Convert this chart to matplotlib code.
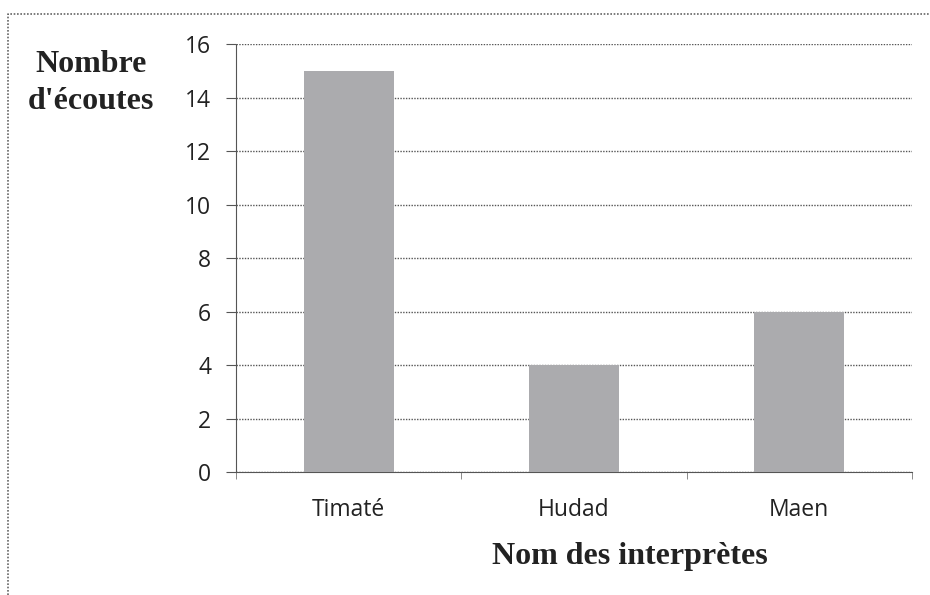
import matplotlib
matplotlib.use('Agg')
import matplotlib.pyplot as plt
from matplotlib.lines import Line2D

# data
interpretes = ['Timaté', 'Hudad', 'Maen']
ecoutes = [15, 4, 6]
y_ticks = [0, 2, 4, 6, 8, 10, 12, 14, 16]

fig = plt.figure(figsize=(9.3, 5.95), dpi=100)
ax = fig.add_axes([0.2538, 0.2067, 0.7268, 0.7193])

x = list(range(len(interpretes)))
ax.bar(x, ecoutes, width=0.4, color='#ababae', edgecolor='none', zorder=3)

ax.set_xlim(-0.5, len(interpretes) - 0.5)
ax.set_ylim(0, 16)
ax.set_yticks(y_ticks)
ax.yaxis.grid(True, color='#555555', linestyle=(0, (1, 1)), linewidth=1.0, zorder=0)

for side in ['top', 'right']:
    ax.spines[side].set_visible(False)
ax.spines['left'].set_linestyle((0, (1, 1)))
ax.spines['left'].set_color('#555555')
ax.spines['bottom'].set_linestyle((0, (1, 1)))
ax.spines['bottom'].set_color('#555555')

ax.set_xticks(x)
ax.set_xticklabels(interpretes)
ax.set_xticks([i - 0.5 for i in range(len(interpretes) + 1)], minor=True)
ax.tick_params(axis='x', which='major', length=0, pad=19)
ax.tick_params(axis='x', which='minor', length=5, color='#777777', direction='out')
ax.tick_params(axis='y', length=7, color='#555555', pad=11)
for lab in ax.get_xticklabels() + ax.get_yticklabels():
    lab.set_fontfamily('Open Sans')
    lab.set_fontsize(16.5)
    lab.set_color('#222222')

fig.text(0.098, 0.892, 'Nombre', ha='center', va='center', fontsize=23,
         fontweight='bold', family='Liberation Serif', color='#222222')
fig.text(0.098, 0.830, "d'écoutes", ha='center', va='center', fontsize=23,
         fontweight='bold', family='Liberation Serif', color='#222222')
fig.text(0.677, 0.064, 'Nom des interprètes', ha='center', va='center', fontsize=23,
         fontweight='bold', family='Liberation Serif', color='#222222')

# frame of the scanned chart (only top and left edges visible)
bx, by = 8 / 930, 1 - 14 / 595
fig.add_artist(Line2D([bx, bx, 1.0], [0.0, by, by], transform=fig.transFigure,
                      color='#666666', linestyle=(0, (1, 1)), linewidth=1.2))

fig.savefig('out.png', dpi=100)
